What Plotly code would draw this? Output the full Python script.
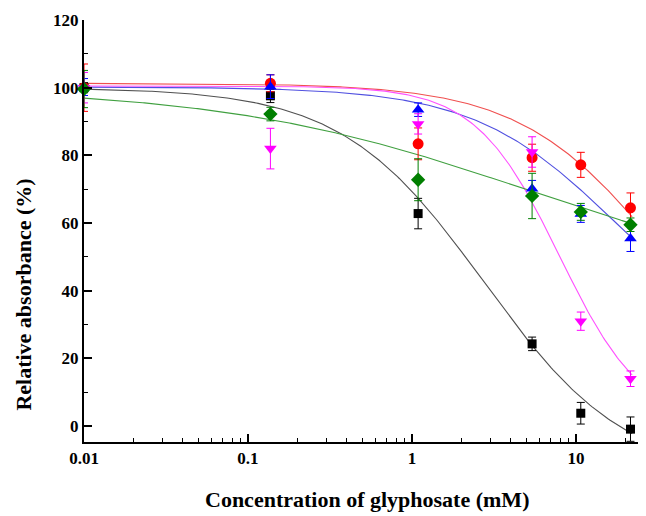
import numpy as np
import plotly.graph_objects as go

# Concentrations (mM)
conc = [0.01, 0.137, 1.09, 5.4, 10.7, 21.5]

# Series values (relative absorbance, %) and errors
black_y = [100.0, 97.6, 62.8, 24.3, 3.8, -0.9]
black_e = [1.5, 2.0, 4.5, 2.0, 3.2, 3.6]
red_y = [100.0, 101.3, 83.4, 79.3, 77.2, 64.5]
red_e = [7.0, 2.5, 4.7, 4.0, 3.7, 4.4]
blue_y = [100.2, 100.3, 93.5, 70.1, 62.7, 55.4]
blue_e = [2.5, 3.5, 2.0, 2.5, 2.5, 3.8]
magenta_y = [100.0, 82.0, 89.3, 81.0, 31.0, 14.0]
magenta_e = [4.5, 6.0, 3.0, 4.5, 2.7, 2.3]
green_y = [99.6, 92.2, 72.8, 68.0, 63.3, 59.5]
green_e = [5.5, 2.0, 6.2, 6.7, 2.5, 2.0]

# Dose-response fit parameters: top, bottom, EC50, Hill slope
black_fit = [100.0, -15.0, 2.75, 1.0]
red_fit = [101.3, 0.0, 34.5, 1.0]
blue_fit = [100.2, 20.0, 17.5, 1.0]
magenta_fit = [100.5, 0.0, 7.94, 1.7]
green_fit = [100.0, 40.0, 4.9, 0.47]

x_ticks = [0.01, 0.1, 1, 10]
x_tick_text = ["0.01", "0.1", "1", "10"]
y_ticks = [0, 20, 40, 60, 80, 100, 120]

x_title = "Concentration of glyphosate (mM)"
y_title = "Relative absorbance (%)"


def hill(x, p):
    top, bottom, ec50, h = p
    return bottom + (top - bottom) / (1 + (x / ec50) ** h)


xc = np.logspace(-2, np.log10(22), 300)

series = [
    ("black", black_y, black_e, black_fit, "black", "#505050", "square", 9),
    ("red", red_y, red_e, red_fit, "#ff0000", "#f05050", "circle", 11),
    ("blue", blue_y, blue_e, blue_fit, "#0000ff", "#5050e0", "triangle-up", 11),
    ("magenta", magenta_y, magenta_e, magenta_fit, "#ff00ff", "#ff50ff", "triangle-down", 11),
    ("green", green_y, green_e, green_fit, "#007f00", "#40a040", "diamond", 11),
]

fig = go.Figure()
for name, y, e, p, mc, lc, sym, sz in series:
    fig.add_trace(go.Scatter(x=xc, y=hill(xc, p), mode="lines",
                             line=dict(color=lc, width=1.1), showlegend=False,
                             hoverinfo="skip"))
for name, y, e, p, mc, lc, sym, sz in series:
    fig.add_trace(go.Scatter(x=conc, y=y, mode="markers", name=name,
                             marker=dict(symbol=sym, size=sz, color=mc),
                             error_y=dict(type="data", array=e, color=mc,
                                          thickness=1, width=4),
                             cliponaxis=False, showlegend=False))

font_family = "Liberation Serif"
fig.update_layout(
    width=638, height=508,
    margin=dict(l=76, r=0, t=12, b=74, autoexpand=False),
    paper_bgcolor="white", plot_bgcolor="white",
    font=dict(family=font_family, color="black"),
    xaxis=dict(type="log", range=[-2, 1.427], automargin=False,
               tickvals=x_ticks, ticktext=x_tick_text,
               ticks="inside", ticklen=8, tickwidth=1.5, tickcolor="black",
               minor=dict(tickvals=[v * m for v in [0.01, 0.1, 1, 10] for m in range(2, 10)],
                          ticks="inside", ticklen=4, tickwidth=1.2, tickcolor="black"),
               showline=True, linecolor="black", linewidth=2,
               showgrid=False, zeroline=False,
               tickfont=dict(size=17, family=font_family, weight="bold")),
    yaxis=dict(range=[-4.7, 120], automargin=False,
               tickvals=y_ticks,
               ticks="inside", ticklen=8, tickwidth=1.5, tickcolor="black",
               minor=dict(dtick=10, ticks="inside", ticklen=4, tickwidth=1.2, tickcolor="black"),
               showline=True, linecolor="black", linewidth=2,
               showgrid=False, zeroline=False,
               tickfont=dict(size=17, family=font_family, weight="bold")),
    annotations=[
        dict(text="<b>" + x_title + "</b>", xref="paper", yref="paper",
             x=(367 - 84) / 562, y=-0.137, xanchor="center", yanchor="middle",
             showarrow=False, font=dict(size=22, family=font_family)),
        dict(text="<b>" + y_title + "</b>", xref="paper", yref="paper",
             x=-0.108, y=0.35, xanchor="center", yanchor="middle", textangle=-90,
             showarrow=False, font=dict(size=22, family=font_family)),
    ],
)

fig.write_html("out.html")
